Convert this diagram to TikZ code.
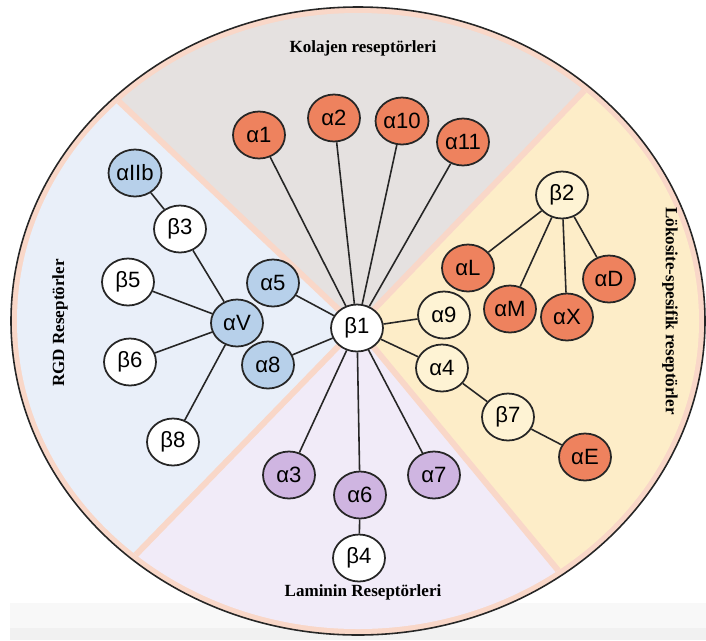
\documentclass[tikz,border=0pt]{standalone}
\usepackage{fontspec}
\setmainfont{Liberation Serif}
\newfontfamily\nodefont{Liberation Sans}
\usetikzlibrary{shapes.geometric}
\definecolor{KolGray}{RGB}{229,225,224}
\definecolor{LokYellow}{RGB}{253,237,200}
\definecolor{LamLilac}{RGB}{241,235,248}
\definecolor{RgdBlue}{RGB}{233,239,249}
\definecolor{RingPeach}{RGB}{249,215,200}
\definecolor{RecOrange}{RGB}{238,130,94}
\definecolor{RecBlue}{RGB}{183,208,234}
\definecolor{RecPurple}{RGB}{207,181,225}
\definecolor{RecCream}{RGB}{254,243,212}
\definecolor{BandGray}{RGB}{248,248,248}
\definecolor{BandDark}{RGB}{241,241,241}
\tikzset{
  rec/.style={ellipse,draw=black!85,line width=1pt,inner sep=0pt,
    minimum width=1.04cm,minimum height=0.94cm,font=\nodefont\fontsize{12.6}{14}\selectfont},
  orng/.style={rec,fill=RecOrange},
  blu/.style={rec,fill=RecBlue},
  purp/.style={rec,fill=RecPurple},
  crm/.style={rec,fill=RecCream},
  wht/.style={rec,fill=white},
  edge/.style={draw=black!85,line width=0.9pt},
}
\tikzset{divider/.style={draw=RingPeach,line width=3.4pt}, grp/.style={font=\bfseries\fontsize{9.7}{11}\selectfont}}

\begin{document}
\begin{tikzpicture}[x=0.02cm,y=-0.02cm]
\useasboundingbox (0,0) rectangle (706,640);
\fill[BandGray] (10,603) rectangle (706,640);
\fill[BandDark] (10,628) rectangle (706,640);
\coordinate (c) at (357,327);
\fill[RingPeach] (358,321) ellipse [x radius=347,y radius=314];
\begin{scope}
\clip (358,321) ellipse [x radius=341,y radius=308];
\fill[KolGray] (c) -- (-43,-52) -- (757,-89) -- cycle;
\fill[LokYellow] (c) -- (757,-89) -- (757,811) -- cycle;
\fill[LamLilac] (c) -- (757,811) -- (-43,739) -- cycle;
\fill[RgdBlue] (c) -- (-43,739) -- (-43,-52) -- cycle;
\draw[divider] (c) -- (-43,-52);
\draw[divider] (c) -- (757,-89);
\draw[divider] (c) -- (757,811);
\draw[divider] (c) -- (-43,739);
\end{scope}
\draw[black!85,line width=0.9pt] (358,321) ellipse [x radius=347,y radius=314];
% group titles
\node[grp] (kol) at (363,48) {Kolajen reseptörleri};
\node[grp] (lam) at (363,592) {Laminin Reseptörleri};
\node[grp,rotate=90] (rgd) at (60,323) {RGD Reseptörler};
\node[grp,rotate=-90] (lok) at (670,311) {Lökosite-spesifik reseptörler};
% receptors
\node[wht] (b1) at (357,328) {β1};
\node[orng] (a1) at (259,135) {α1};
\node[orng] (a2) at (334,118) {α2};
\node[orng] (a10) at (402,121) {α10};
\node[orng] (a11) at (463,142) {α11};
\node[blu] (aIIb) at (135,173) {αIIb};
\node[wht] (b3) at (180,229) {β3};
\node[wht] (b5) at (128,282) {β5};
\node[blu] (aV) at (237,323) {αV};
\node[blu] (a5) at (273,283) {α5};
\node[wht] (b6) at (130,362) {β6};
\node[blu] (a8) at (268,365) {α8};
\node[wht] (b8) at (173,442) {β8};
\node[crm] (b2) at (562,195) {β2};
\node[orng] (aL) at (468,268) {αL};
\node[orng] (aM) at (510,309) {αM};
\node[orng] (aX) at (567,317) {αX};
\node[orng] (aD) at (609,279) {αD};
\node[crm] (a9) at (444,315) {α9};
\node[crm] (a4) at (442,368) {α4};
\node[crm] (b7) at (508,417) {β7};
\node[orng] (aE) at (585,457) {αE};
\node[purp] (a3) at (289,475) {α3};
\node[purp] (a6) at (360,495) {α6};
\node[purp] (a7) at (434,475) {α7};
\node[wht] (b4) at (359,558) {β4};
% links
\draw[edge] (b1) -- (a1);
\draw[edge] (b1) -- (a2);
\draw[edge] (b1) -- (a10);
\draw[edge] (b1) -- (a11);
\draw[edge] (b1) -- (a5);
\draw[edge] (b1) -- (a8);
\draw[edge] (b1) -- (a9);
\draw[edge] (b1) -- (a4);
\draw[edge] (b1) -- (a3);
\draw[edge] (b1) -- (a6);
\draw[edge] (b1) -- (a7);
\draw[edge] (aIIb) -- (b3);
\draw[edge] (b3) -- (aV);
\draw[edge] (b5) -- (aV);
\draw[edge] (b6) -- (aV);
\draw[edge] (b8) -- (aV);
\draw[edge] (b2) -- (aL);
\draw[edge] (b2) -- (aM);
\draw[edge] (b2) -- (aX);
\draw[edge] (b2) -- (aD);
\draw[edge] (a4) -- (b7);
\draw[edge] (b7) -- (aE);
\draw[edge] (a6) -- (b4);
\end{tikzpicture}
\end{document}
